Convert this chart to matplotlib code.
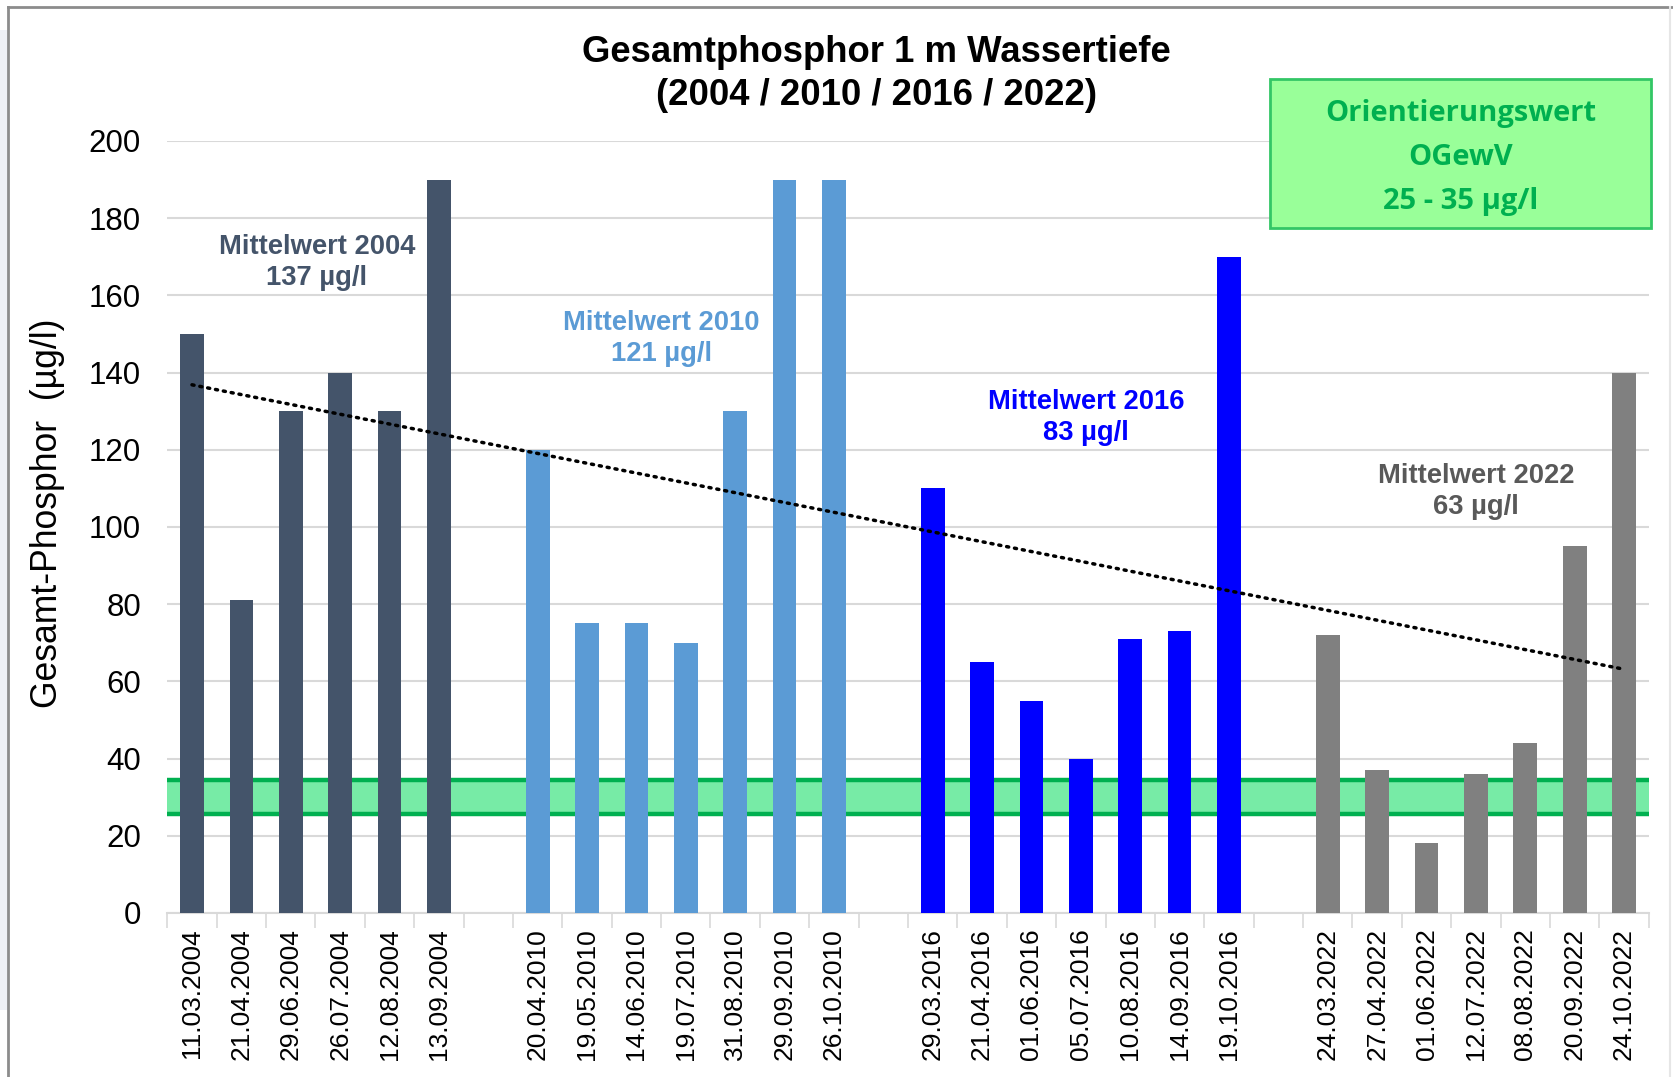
import matplotlib.pyplot as plt
import matplotlib.patches as mpatches
import numpy as np

plt.rcParams['font.family'] = ['Liberation Sans', 'DejaVu Sans']

# Messwerte Gesamtphosphor (µg/l) je Probenahmetermin
dates_2004 = ['11.03.2004', '21.04.2004', '29.06.2004', '26.07.2004', '12.08.2004', '13.09.2004']
vals_2004 = [150, 81, 130, 140, 130, 190]
dates_2010 = ['20.04.2010', '19.05.2010', '14.06.2010', '19.07.2010', '31.08.2010', '29.09.2010', '26.10.2010']
vals_2010 = [120, 75, 75, 70, 130, 190, 190]
dates_2016 = ['29.03.2016', '21.04.2016', '01.06.2016', '05.07.2016', '10.08.2016', '14.09.2016', '19.10.2016']
vals_2016 = [110, 65, 55, 40, 71, 73, 170]
dates_2022 = ['24.03.2022', '27.04.2022', '01.06.2022', '12.07.2022', '08.08.2022', '20.09.2022', '24.10.2022']
vals_2022 = [72, 37, 18, 36, 44, 95, 140]

years = ['2004', '2010', '2016', '2022']
colors = ['#44546A', '#5B9BD5', '#0000FF', '#808080']
text_colors = ['#44546A', '#5B9BD5', '#0000FF', '#595959']
ow_low, ow_high = 25, 35

groups = [(dates_2004, vals_2004), (dates_2010, vals_2010),
          (dates_2016, vals_2016), (dates_2022, vals_2022)]

fig = plt.figure(figsize=(16.73, 10.77), dpi=100)

# Rahmen um das Diagramm
fig.patches.append(mpatches.Rectangle((0, 0.062), 0.0045, 0.91, transform=fig.transFigure,
                                      facecolor='#EEF0F5', edgecolor='none', zorder=0))
fig.add_artist(plt.Line2D([0.0048, 0.0048], [0, 0.9935], transform=fig.transFigure,
                          color='#8C8C8C', lw=2))
fig.add_artist(plt.Line2D([0.0048, 1], [0.9935, 0.9935], transform=fig.transFigure,
                          color='#8C8C8C', lw=2))
fig.add_artist(plt.Line2D([0.9985, 0.9985], [0, 0.9935], transform=fig.transFigure,
                          color='#E6E6E6', lw=1.5))

ax = fig.add_axes([0.1, 0.1523, 0.8855, 0.7168])

labels = []
pos = 0
means = []
for i, (dates, vals) in enumerate(groups):
    x = np.arange(pos, pos + len(vals))
    ax.bar(x, vals, width=0.48, color=colors[i], zorder=3)
    means.append(np.mean(vals))
    labels += dates
    pos += len(vals)
    if i < len(groups) - 1:
        labels.append('')
        pos += 1

n = len(labels)

# Orientierungswert-Band
ax.axhspan(ow_low, ow_high, color='#77EBA6', zorder=2, lw=0)
ax.axhline(ow_low + 0.6, color='#00B050', lw=3.2, zorder=2)
ax.axhline(ow_high - 0.6, color='#00B050', lw=3.2, zorder=2)

# Trendlinie vom Mittel 2004 zum Mittel 2022
ax.plot([0, n - 1], [means[0], means[-1]], color='black', lw=2.5,
        linestyle=(0, (0.6, 1.7)), dash_capstyle='round', zorder=4)

ax.set_xlim(-0.5, n - 0.5)
ax.set_ylim(0, 200)
ax.set_yticks(np.arange(0, 201, 20))
ax.grid(axis='y', color='#D9D9D9', lw=1.5, zorder=0)
ax.set_xticks(np.arange(n))
ax.set_xticklabels(labels, rotation=90, fontsize=19)
ax.set_xticks(np.arange(n + 1) - 0.5, minor=True)
ax.tick_params(axis='x', which='major', length=0, pad=11)
ax.tick_params(axis='x', which='minor', length=11, width=1.2, color='#D9D9D9')
ax.tick_params(axis='y', length=0, labelsize=22.5, pad=19)
for s in ['top', 'right', 'left']:
    ax.spines[s].set_visible(False)
ax.spines['bottom'].set_color('#D9D9D9')
ax.spines['bottom'].set_linewidth(1.5)

fig.text(0.0281, 0.5237, 'Gesamt-Phosphor  (µg/l)', rotation=90, ha='center', va='center',
         fontsize=25.6)

# Mittelwert-Beschriftungen
text_pos = [(2.53, 168.6), (9.5, 148.8), (18.1, 128.4), (26.0, 109.2)]
for i, (tx, ty) in enumerate(text_pos):
    ax.text(tx, ty, 'Mittelwert %s\n%d µg/l' % (years[i], round(means[i])),
            ha='center', va='center', fontsize=19.7, fontweight='bold',
            color=text_colors[i], linespacing=1.25, zorder=5)

fig.text(0.524, 0.9515, 'Gesamtphosphor 1 m Wassertiefe', ha='center', va='center',
         fontsize=26.3, fontweight='bold')
fig.text(0.524, 0.9115, '(2004 / 2010 / 2016 / 2022)', ha='center', va='center',
         fontsize=26.3, fontweight='bold')

# Kasten Orientierungswert
fig.patches.append(mpatches.Rectangle((0.759, 0.788), 0.228, 0.139, transform=fig.transFigure,
                                      facecolor='#99FF99', edgecolor='#33C666', lw=2, zorder=5))
box_lines = ['Orientierungswert', 'OGewV', '%d - %d µg/l' % (ow_low, ow_high)]
for k, yy in enumerate([0.895, 0.8541, 0.8133]):
    fig.text(0.873, yy, box_lines[k], ha='center', va='center', fontsize=21,
             fontweight='bold', color='#00B050', family=['Open Sans', 'DejaVu Sans'], zorder=6)

fig.savefig('out.png', dpi=100)
